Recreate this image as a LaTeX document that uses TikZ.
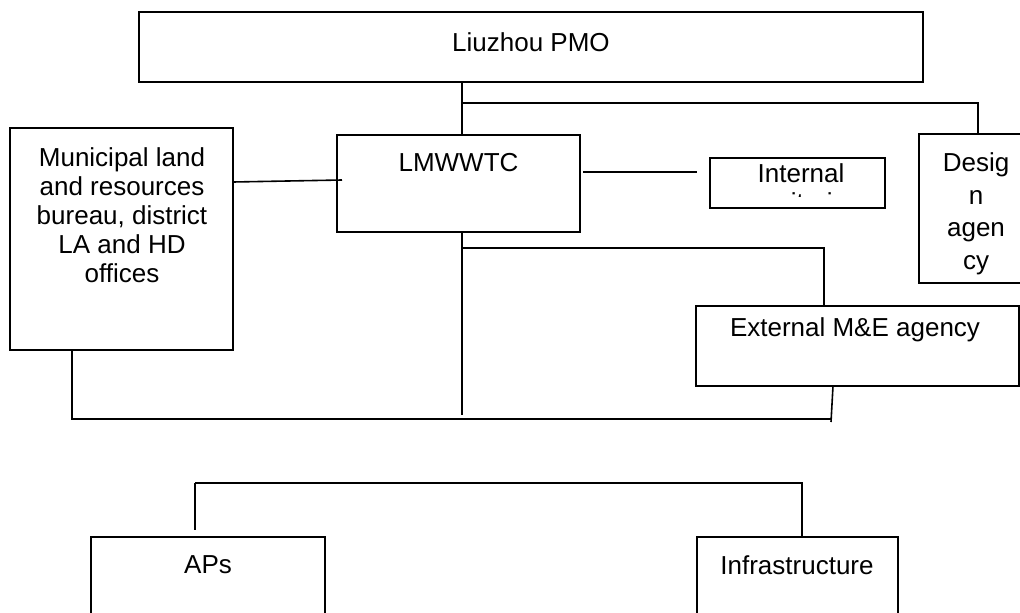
\documentclass[tikz,border=0pt]{standalone}
\usepackage{fontspec}
\setmainfont{Liberation Sans}
\begin{document}
\begin{tikzpicture}[x=1pt,y=-1pt,
  box/.style={draw, line width=1.6pt, rectangle, inner sep=0pt, outer sep=0pt},
  txt/.style={inner sep=0pt, align=center, font=\fontsize{26}{29}\selectfont},
  con/.style={line width=1.6pt}]
\clip (0,0) rectangle (1020,613);
\fill[white] (0,0) rectangle (1020,613);
% boxes
\node[box, minimum width=784, minimum height=70] (pmo) at (531,47) {};
\node[box, minimum width=111, minimum height=149] (des) at (974.5,208.5) {};
\node[box, minimum width=243, minimum height=97] (lm) at (458.5,183.5) {};
\node[box, minimum width=223, minimum height=222] (mun) at (121.5,239) {};
\node[box, minimum width=175, minimum height=50] (int) at (797.5,183) {};
\node[box, minimum width=323, minimum height=80] (ext) at (857.5,346) {};
\node[box, minimum width=234, minimum height=103] (aps) at (208,588.5) {};
\node[box, minimum width=201, minimum height=103] (inf) at (797.5,588.5) {};
% texts
\node[txt] (tpmo) at (531,42) {Liuzhou PMO};
\node[txt, font=\fontsize{26}{32.5}\selectfont] (tdes) at (976,213.7) {Desig\\n\\agen\\cy};
\node[txt] (tlm) at (458.5,163) {LMWWTC};
\node[txt] (tmun) at (122,215) {Municipal land\\and resources\\bureau, district\\LA and HD\\offices};
\begin{scope}
\clip (712,160) rectangle (883,196);
\node[txt, anchor=north] (tint) at (801,163) {Internal\\monitoring};
\end{scope}
\node[txt] (text) at (855,330) {External M\&E agency};
\node[txt] (taps) at (208,565) {APs};
\node[txt] (tinf) at (797,565) {Infrastructure};
% junction coordinates
\coordinate (j1) at (462,103);
\coordinate (j2) at (978,103);
\coordinate (j3) at (462,248);
\coordinate (j4) at (824,248);
\coordinate (m1) at (342,180);
\coordinate (i1) at (583,172);
\coordinate (i2) at (697,172);
\coordinate (b1) at (72,419);
\coordinate (b2) at (831,419);
\coordinate (b3) at (462,415);
\coordinate (e1) at (831,422);
\coordinate (l1) at (195,483);
\coordinate (l2) at (802,483);
\coordinate (l3) at (195,530);
% connectors
\draw[con] (j1 |- pmo.south) -- (j1 |- lm.north);
\draw[con] (j1) -- (j2) -- (j2 |- des.north);
\draw[con] (mun.east |- 0,182) -- (m1);
\draw[con] (i1) -- (i2);
\draw[con] (j1 |- lm.south) -- (b3);
\draw[con] (j3) -- (j4) -- (j4 |- ext.north);
\draw[con] (833,386) -- (e1);
\draw[con] (b1 |- mun.south) -- (b1) -- (b2);
\draw[con] (l1) -- (l2) -- (l2 |- inf.north);
\draw[con] (l1) -- (l3);
\end{tikzpicture}
\end{document}
